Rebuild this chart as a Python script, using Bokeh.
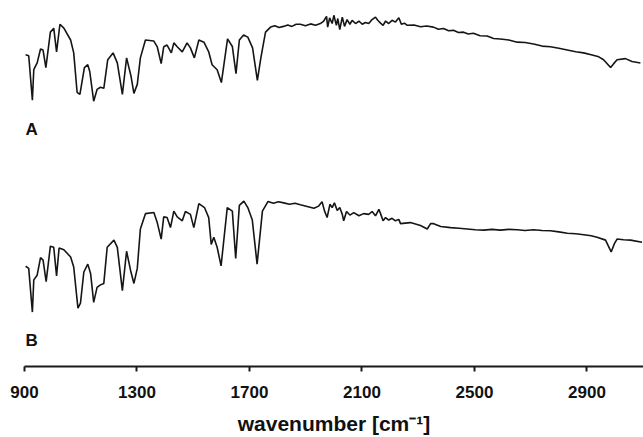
from bokeh.plotting import figure
from bokeh.models import FixedTicker, Range1d
from bokeh.core.properties import value
from bokeh.embed import file_html
from bokeh.resources import INLINE

# IR spectra, transmittance (a.u., spectrum A offset above B)
wn_a = [904, 915, 928, 933, 945, 957, 966, 976, 992, 1004, 1014, 1026, 1040, 1064, 1075,
        1087, 1097, 1113, 1125, 1132, 1146, 1158, 1170, 1182, 1196, 1215, 1230, 1248, 1263,
        1279, 1289, 1301, 1312, 1330, 1360, 1372, 1386, 1395, 1407, 1422, 1431, 1443, 1461,
        1478, 1490, 1504, 1520, 1538, 1555, 1567, 1585, 1600, 1622, 1639, 1652, 1664, 1679,
        1694, 1711, 1728, 1741, 1757, 1775, 1790, 1805, 1821, 1836, 1851, 1866, 1881, 1899,
        1917, 1935, 1952, 1964, 1974, 1978, 1985,
        1994, 2000, 2009, 2014, 2021, 2030, 2038, 2047, 2057, 2065, 2077, 2089, 2101, 2112,
        2124, 2136, 2148, 2156, 2166, 2175, 2184, 2195, 2207, 2219, 2231, 2240, 2251, 2261,
        2285, 2308, 2330, 2354, 2372, 2390, 2408, 2425, 2443, 2461, 2478, 2496, 2520, 2545,
        2568, 2592, 2622, 2652, 2680, 2710, 2740, 2770, 2800, 2830, 2860, 2888, 2915, 2942,
        2959, 2984, 2995, 3007, 3037, 3060, 3090]
t_a = [87.1, 86.8, 74.4, 82.9, 84.8, 88.7, 88.4, 83.5, 93.4, 94.5, 87.9, 95.6, 94.5, 91.2, 87.6,
       76.6, 76.0, 83.5, 84.3, 82.4, 74.1, 77.4, 78.0, 77.7, 85.7, 87.6, 84.8, 76.0, 86.2,
       81.0, 76.3, 78.8, 86.2, 91.2, 90.9, 89.3, 84.6, 89.3, 89.8, 87.6, 90.4, 89.3, 87.9,
       90.4, 89.0, 86.2, 91.2, 90.6, 87.9, 84.3, 82.9, 79.3, 91.5, 89.4, 81.8, 91.2, 92.6,
       92.0, 89.0, 79.9, 86.5, 93.4, 94.8, 95.2, 94.7, 95.0, 95.4, 95.0, 95.6, 95.6, 95.2,
       95.7, 95.3, 95.8, 96.5, 97.8, 94.8, 97.4,
       95.8, 98.1, 95.3, 97.2, 94.1, 97.6, 95.0, 96.9, 95.6, 96.7, 95.8, 96.5, 95.6, 96.1,
       95.8, 96.9, 97.6, 96.7, 95.9, 95.3, 96.5, 95.8, 96.7, 96.2, 97.4, 95.6, 95.9, 95.3,
       95.4, 94.9, 95.1, 94.8, 94.2, 94.4, 93.8, 93.9, 93.3, 93.4, 92.9, 93.1, 92.4, 92.3,
       91.6, 91.5, 91.2, 90.6, 90.5, 90.1, 89.5, 89.3, 88.9, 88.4, 87.9, 87.6, 87.1, 86.5,
       85.7, 83.5, 84.6, 85.7, 86.0, 85.2, 84.8]

wn_b = [904, 915, 928, 933, 945, 957, 966, 977, 992, 1004, 1014, 1023, 1040, 1064, 1075,
        1090, 1099, 1111, 1125, 1135, 1146, 1158, 1170, 1182, 1194, 1218, 1230, 1248, 1263,
        1277, 1289, 1301, 1312, 1330, 1360, 1372, 1386, 1395, 1407, 1419, 1431, 1443, 1461,
        1472, 1490, 1502, 1520, 1540, 1555, 1564, 1573, 1585, 1599, 1621, 1639, 1651, 1664,
        1680, 1694, 1710, 1727, 1746, 1766, 1785, 1803, 1822, 1842, 1862, 1881, 1905, 1929,
        1946, 1958, 1967, 1976, 1986,
        1994, 2002, 2012, 2021, 2030, 2035, 2045, 2057, 2071, 2089, 2106, 2124, 2136, 2148,
        2160, 2166, 2175, 2184, 2195, 2207, 2219, 2231, 2237, 2272, 2308, 2332, 2344, 2355,
        2380, 2415, 2445, 2474, 2503, 2533, 2562, 2592, 2622, 2652, 2680, 2710, 2740, 2770,
        2800, 2830, 2860, 2889, 2915, 2936, 2966, 2986, 2998, 3007, 3030, 3055, 3096]
t_b = [28.0, 27.4, 15.2, 24.2, 25.5, 30.4, 29.7, 23.7, 33.6, 33.3, 25.3, 33.1, 32.6, 30.6, 27.8,
       16.3, 17.7, 26.4, 28.6, 26.0, 17.9, 22.1, 22.8, 23.2, 33.3, 35.3, 33.3, 21.2, 32.2,
       26.9, 23.2, 27.4, 38.4, 42.7, 43.0, 40.2, 35.6, 41.8, 41.6, 38.8, 43.4, 41.8, 40.7,
       43.3, 42.5, 38.8, 45.5, 44.4, 41.6, 34.1, 36.1, 33.3, 28.1, 44.4, 43.4, 30.2, 45.0,
       46.2, 44.4, 40.9, 28.6, 43.4, 46.1, 45.6, 46.0, 45.7, 45.3, 45.6, 45.2, 44.7, 44.2,
       44.8, 46.0, 43.4, 41.6, 45.3,
       44.4, 45.7, 43.6, 44.4, 42.5, 40.7, 43.3, 42.3, 43.0, 42.1, 42.7, 42.5, 43.3, 42.1,
       43.9, 42.7, 40.7, 41.6, 40.9, 41.4, 40.7, 41.1, 39.9, 40.2, 39.4, 38.4, 39.9, 39.9,
       39.1, 38.8, 38.6, 38.4, 38.2, 38.1, 38.3, 38.1, 38.3, 38.2, 38.0, 38.2, 38.0, 37.9,
       37.6, 37.2, 37.1, 36.8, 36.5, 36.1, 35.3, 32.0, 34.4, 35.6, 35.4, 35.3, 34.7]

x_ticks = [900, 1300, 1700, 2100, 2500, 2900]
panel_labels = ["A", "B"]
panel_label_x = [904, 904]
panel_label_y = [66.3, 7.2]

p = figure(width=643, height=437, output_backend="svg", toolbar_location=None,
           x_range=Range1d(900, 3101), y_range=Range1d(0, 100),
           min_border_left=24, min_border_right=0, min_border_top=8, min_border_bottom=66)
p.outline_line_color = None
p.background_fill_color = "white"
p.border_fill_color = "white"
p.grid.visible = False
p.yaxis.visible = False

p.line(wn_a, t_a, line_color="#151515", line_width=1.6)
p.line(wn_b, t_b, line_color="#151515", line_width=1.6)

p.text(x=panel_label_x, y=panel_label_y, text=panel_labels, text_font=value("Liberation Sans"),
       text_font_style="bold", text_font_size="17px", text_color="#111111",
       text_align="left", text_baseline="alphabetic")

ax = p.xaxis[0]
ax.ticker = FixedTicker(ticks=x_ticks)
ax.axis_line_width = 2
ax.axis_line_color = "#1a1a1a"
ax.major_tick_line_width = 2
ax.major_tick_line_color = "#1a1a1a"
ax.major_tick_out = 5
ax.major_tick_in = 0
ax.minor_tick_out = 0
ax.minor_tick_in = 0
ax.major_label_standoff = 14
ax.major_label_text_font = "Liberation Sans"
ax.major_label_text_font_style = "bold"
ax.major_label_text_font_size = "17px"
ax.major_label_text_color = "#111111"
ax.axis_label = "wavenumber [cm⁻¹]"
ax.axis_label_text_font = "Liberation Sans"
ax.axis_label_text_font_style = "bold"
ax.axis_label_text_font_size = "21px"
ax.axis_label_text_color = "#111111"
ax.axis_label_standoff = 11

open("out.html", "w").write(file_html(p, INLINE))
